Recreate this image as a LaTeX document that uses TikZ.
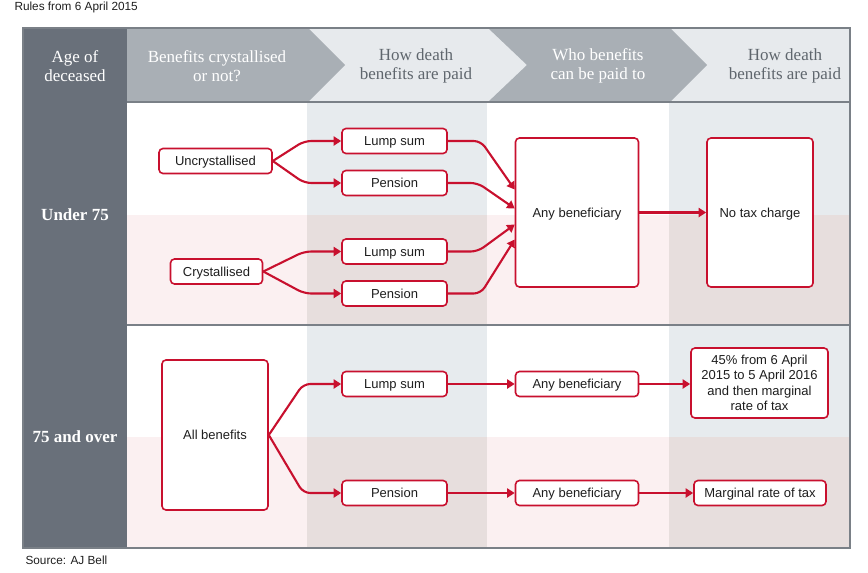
\documentclass[tikz,border=0pt]{standalone}
\usepackage{fontspec}
\setmainfont{Liberation Sans}
\newfontfamily\hdrfont{Liberation Serif}
\usetikzlibrary{arrows.meta,calc}
\definecolor{ajred}{RGB}{200,16,46}
\definecolor{darkcol}{RGB}{105,112,122}
\definecolor{hgray}{RGB}{169,175,181}
\definecolor{hlight}{RGB}{231,234,237}
\definecolor{shadeA}{RGB}{231,235,238}
\definecolor{pinkbg}{RGB}{251,240,241}
\definecolor{shadeB}{RGB}{231,222,221}
\definecolor{framec}{RGB}{122,128,135}
\definecolor{htext}{RGB}{95,102,109}
\definecolor{btext}{RGB}{30,30,30}
\tikzset{
  rbox/.style={draw=ajred, line width=1.6pt, rounded corners=4pt, fill=white,
    inner sep=0pt, align=center, text=btext, font=\fontsize{13}{15.5}\selectfont},
  oneline/.style={text height=10.4pt, text depth=1.4pt},
  flow/.style={draw=ajred, line width=2.1pt, rounded corners=7pt,
    -{Triangle[length=7.5pt,width=9pt]}},
  hdrw/.style={text=white, align=center, font=\hdrfont\fontsize{17}{19}\selectfont},
  hdrd/.style={text=htext, align=center, font=\hdrfont\fontsize{17}{19}\selectfont},
  agelbl/.style={text=white, font=\hdrfont\bfseries\fontsize{17}{19}\selectfont},
  note/.style={text=btext, anchor=west, font=\fontsize{11.8}{14}\selectfont}
}
\begin{document}
\begin{tikzpicture}[x=1pt,y=-1pt]
\useasboundingbox (0,0) rectangle (868,573);
% body backgrounds
\fill[white] (127,102) rectangle (850,215);
\fill[pinkbg] (127,215) rectangle (850,325);
\fill[white] (127,325) rectangle (850,437);
\fill[pinkbg] (127,437) rectangle (850,548);
\foreach \xa/\xb in {307/487, 669/850}{
  \fill[shadeA] (\xa,102) rectangle (\xb,215);
  \fill[shadeB] (\xa,215) rectangle (\xb,325);
  \fill[shadeA] (\xa,325) rectangle (\xb,437);
  \fill[shadeB] (\xa,437) rectangle (\xb,548);
}
% header
\fill[hlight] (127,28) rectangle (850,102);
\fill[hgray] (127,28) -- (308,28) -- (345,65) -- (308,102) -- (127,102) -- cycle;
\fill[hgray] (488,28) -- (670,28) -- (707,65) -- (670,102) -- (488,102) -- (527,65) -- cycle;
% left column
\fill[darkcol] (23,28) rectangle (127,548);
% lines
\draw[framec, line width=2pt] (127,102) -- (850,102);
\draw[framec, line width=2pt] (127,325) -- (850,325);
\draw[framec, line width=1.5pt] (23,28) rectangle (850,548);

% header texts
\node[hdrw] (h0) at (75,66) {Age of\\deceased};
\node[hdrw] (h1) at (217,66) {Benefits crystallised\\or not?};
\node[hdrd] (h2) at (416,66) {How death\\benefits are paid};
\node[hdrw] (h3) at (598,66) {Who benefits\\can be paid to};
\node[hdrd] (h4) at (785,66) {How death\\benefits are paid};
\node[agelbl] (u75) at (75,215) {Under 75};
\node[agelbl] (o75) at (75,437) {75 and over};

\node[note] (title) at (11,7) {Rules from 6 April 2015};
\node[note] (src) at (22,560) {Source: AJ Bell};

% nodes - under 75
\node[rbox, oneline, minimum width=113pt, minimum height=25pt] (unc) at (215.5,161) {Uncrystallised};
\node[rbox, oneline, minimum width=92pt, minimum height=25pt] (cry) at (216.5,271.5) {Crystallised};
\node[rbox, oneline, minimum width=105pt, minimum height=25pt] (ls1) at (394.5,141) {Lump sum};
\node[rbox, oneline, minimum width=105pt, minimum height=25pt] (pe1) at (394.5,183) {Pension};
\node[rbox, oneline, minimum width=105pt, minimum height=25pt] (ls2) at (394.5,251.5) {Lump sum};
\node[rbox, oneline, minimum width=105pt, minimum height=25pt] (pe2) at (394.5,293.5) {Pension};
\node[rbox, oneline, minimum width=123pt, minimum height=149pt] (ab1) at (577,212.5) {Any beneficiary};
\node[rbox, oneline, minimum width=106pt, minimum height=149pt] (ntc) at (760,212.5) {No tax charge};

% nodes - 75 and over
\node[rbox, oneline, minimum width=106pt, minimum height=150pt] (all) at (215,435) {All benefits};
\node[rbox, oneline, minimum width=105pt, minimum height=25pt] (ls3) at (394.5,384) {Lump sum};
\node[rbox, oneline, minimum width=105pt, minimum height=25pt] (pe3) at (394.5,493) {Pension};
\node[rbox, oneline, minimum width=123pt, minimum height=25pt] (ab2) at (577,384) {Any beneficiary};
\node[rbox, oneline, minimum width=123pt, minimum height=25pt] (ab3) at (577,493) {Any beneficiary};
\node[rbox, minimum width=137pt, minimum height=70pt] (tax1) at (759.5,383) {45\% from 6 April\\2015 to 5 April 2016\\and then marginal\\rate of tax};
\node[rbox, oneline, minimum width=132pt, minimum height=25pt] (tax2) at (760,493) {Marginal rate of tax};

% connectors - under 75
\draw[flow] (unc.east) -- ([xshift=-37pt]ls1.west) -- (ls1.west);
\draw[flow] (unc.east) -- ([xshift=-37pt]pe1.west) -- (pe1.west);
\draw[flow] (cry.east) -- ([xshift=-37pt]ls2.west) -- (ls2.west);
\draw[flow] (cry.east) -- ([xshift=-37pt]pe2.west) -- (pe2.west);
\draw[flow] (ls1.east) -- ([xshift=33pt]ls1.east) -- ([yshift=23pt]ab1.west);
\draw[flow] (pe1.east) -- ([xshift=30pt]pe1.east) -- ([yshift=4pt]ab1.west);
\draw[flow] (ls2.east) -- ([xshift=30pt]ls2.east) -- ([yshift=-12pt]ab1.west);
\draw[flow] (pe2.east) -- ([xshift=33pt]pe2.east) -- ([yshift=-27pt]ab1.west);
\draw[flow] (ab1.east) -- (ntc.west);

% connectors - 75 and over
\draw[flow] (all.east) -- ([xshift=-38pt]ls3.west) -- (ls3.west);
\draw[flow] (all.east) -- ([xshift=-38pt]pe3.west) -- (pe3.west);
\draw[flow] (ls3.east) -- (ab2.west);
\draw[flow] (pe3.east) -- (ab3.west);
\draw[flow] (ab2.east) -- (ab2.east -| tax1.west);
\draw[flow] (ab3.east) -- (tax2.west);
\end{tikzpicture}
\end{document}
